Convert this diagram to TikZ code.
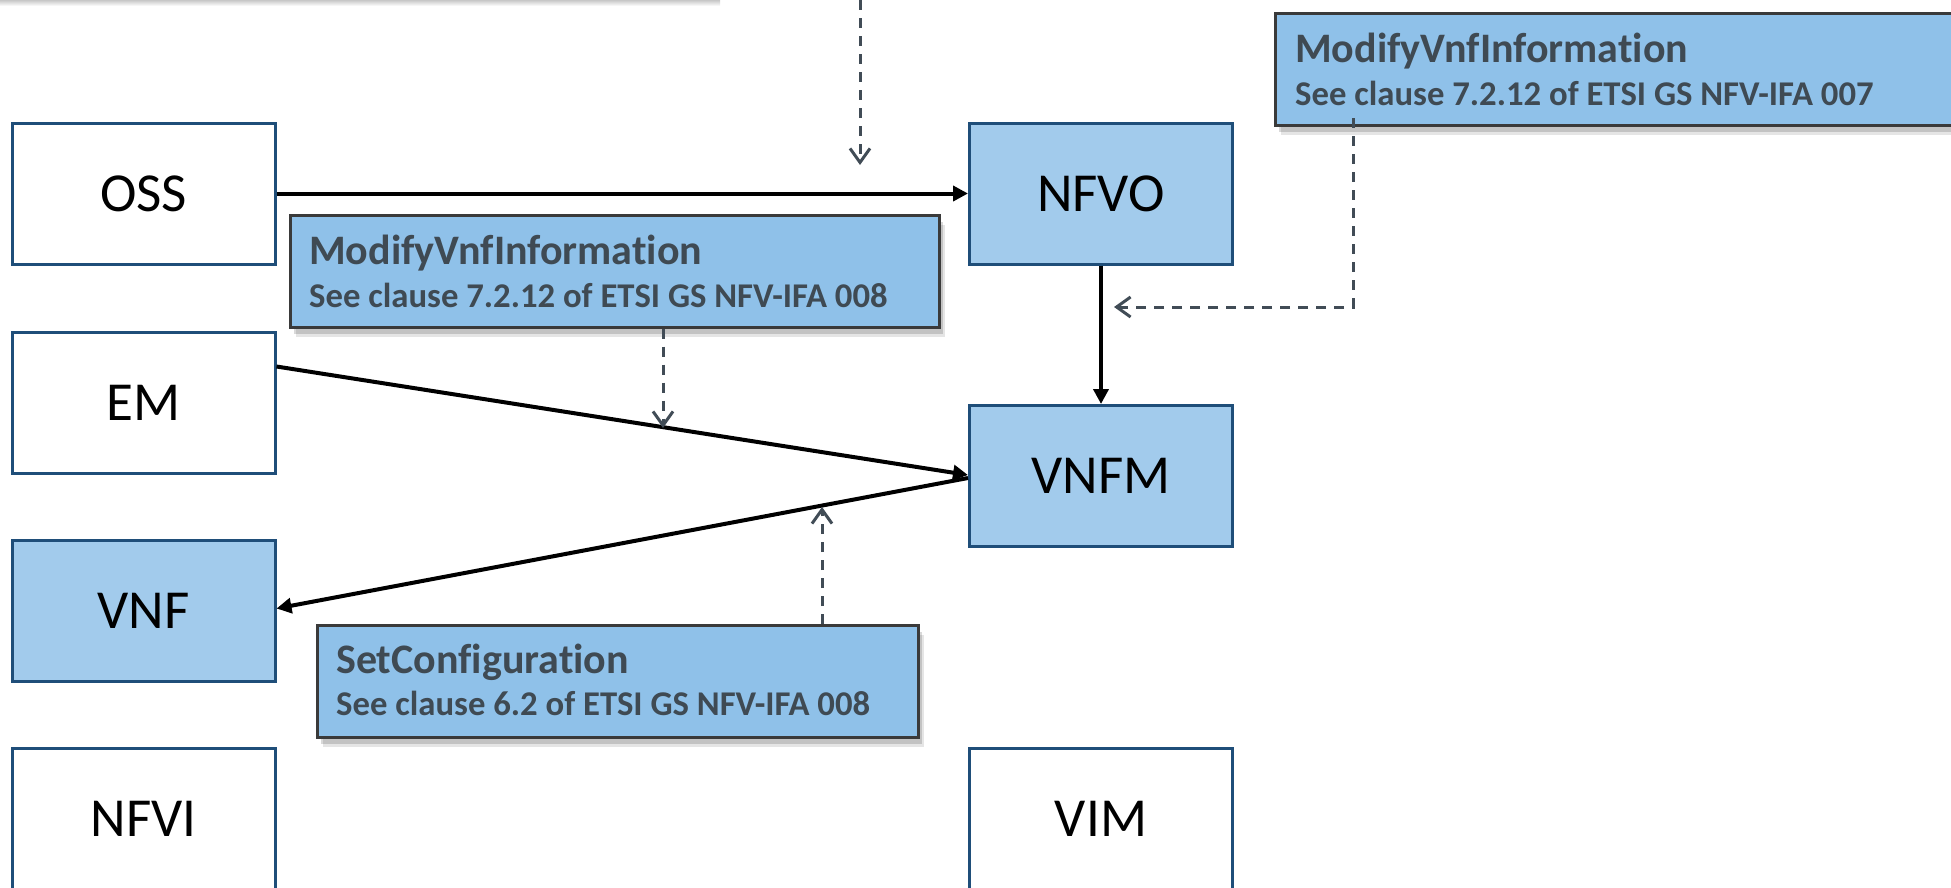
\documentclass[tikz,border=0pt]{standalone}
\usepackage{fontspec}
\setmainfont{Carlito}[Ligatures=NoCommon, Contextuals=NoAlternate, RawFeature={-liga;-clig;-dlig;-calt}]
\usetikzlibrary{arrows.meta,calc,shadows}
\definecolor{boxborder}{HTML}{1F4E79}
\definecolor{boxfill}{HTML}{A2CBEC}
\definecolor{calfill}{HTML}{8FC1E9}
\definecolor{calborder}{HTML}{3A3A3A}
\definecolor{caltext}{HTML}{3F4A53}
\definecolor{dashcol}{HTML}{414C56}
\tikzset{
  entity/.style={draw=boxborder, line width=3pt, minimum width=263pt, minimum height=141pt, inner sep=0pt, font=\fontsize{55}{60}\selectfont, text=black},
  plainent/.style={entity, fill=white},
  filledent/.style={entity, fill=boxfill},
  callout/.style={draw=calborder, line width=2.5pt, fill=calfill, minimum height=112pt, inner sep=0pt, anchor=north west,
    drop shadow={shadow xshift=6pt, shadow yshift=-10pt, opacity=0.10, fill=black},
    drop shadow={shadow xshift=4pt, shadow yshift=-7pt, opacity=0.15, fill=black}},
  ctitle/.style={anchor=base west, inner sep=0pt, text=caltext, font=\bfseries\fontsize{42}{48}\selectfont},
  csub/.style={anchor=base west, inner sep=0pt, text=caltext, font=\bfseries\fontsize{34.7}{40}\selectfont},
  flow/.style={line width=4pt, -{Triangle[length=15pt,width=15pt]}},
  note/.style={draw=dashcol, line width=3pt, dash pattern=on 10pt off 8pt, -{Straight Barb[length=14pt,width=20pt]}},
}
\begin{document}
\begin{tikzpicture}[x=1pt,y=-1pt]
\useasboundingbox (0,0) rectangle (1951,887);
\clip (0,0) rectangle (1951,887);
% faint shadow of an element above the view
\shade[top color=black!22, bottom color=white] (0,0) rectangle (720,6);

% entities
\node[plainent]  (OSS)  at (143.5,193.5) {OSS};
\node[plainent]  (EM)   at (143.5,402.5) {EM};
\node[filledent] (VNF)  at (143.5,610.5) {VNF};
\node[plainent]  (NFVI) at (143.5,818.5) {NFVI};
\node[filledent] (NFVO) at (1101,193.5) {NFVO};
\node[filledent] (VNFM) at (1101,476) {VNFM};
\node[plainent]  (VIM)  at (1101,818.5) {VIM};

% main flows
\draw[flow] (OSS.east) -- (NFVO.west);
\draw[flow] (NFVO.south) -- (VNFM.north);
\draw[flow] ([yshift=36pt]EM.east) -- ([yshift=1pt]VNFM.west);
\draw[flow] ([yshift=-2pt]VNFM.west) -- ([yshift=2pt]VNF.east);

% callouts
\node[callout, minimum width=649pt] (c1) at (289,214) {};
\node[ctitle] (c1a) at ($(c1.north west)+(20,50)$) {ModifyVnfInformat\kern0pt ion};
\node[csub]   (c1b) at ($(c1.north west)+(20,93)$) {See clause 7.2.12 of ETSI GS NFV-IFA 008};

\node[callout, minimum width=720pt] (c2) at (1274,12) {};
\node[ctitle] (c2a) at ($(c2.north west)+(21,50)$) {ModifyVnfInformat\kern0pt ion};
\node[csub]   (c2b) at ($(c2.north west)+(21,93)$) {See clause 7.2.12 of ETSI GS NFV-IFA 007};

\node[callout, minimum width=601pt] (c3) at (316,624) {};
\node[ctitle] (c3a) at ($(c3.north west)+(20,49)$) {SetConfigurat\kern0pt ion};
\node[csub]   (c3b) at ($(c3.north west)+(20,91)$) {See clause 6.2 of ETSI GS NFV-IFA 008};

% dashed annotation arrows
\coordinate (topin) at (860,0);
\coordinate (topend) at (860,165);
\draw[note] (topin) -- (topend);

\coordinate (c1end) at (663,428);
\draw[note] (c1.south -| c1end) -- (c1end);

\coordinate (c3end) at (822,507);
\draw[note] (c3.north -| c3end) -- (c3end);

\coordinate (c2start) at (1353,118);
\coordinate (c2bend) at (1353,307);
\coordinate (c2end) at (1114,307);
\draw[note] (c2start) -- (c2bend) -- (c2end);
\end{tikzpicture}
\end{document}
